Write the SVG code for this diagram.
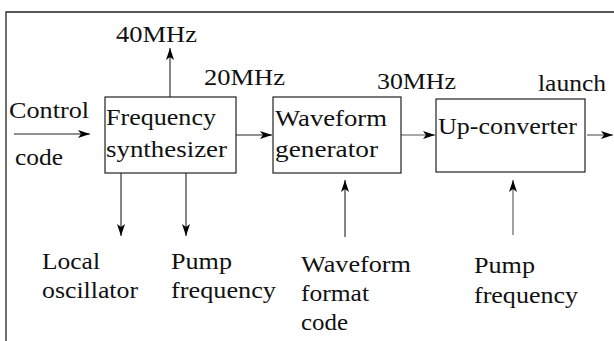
<svg xmlns="http://www.w3.org/2000/svg" width="614" height="341" viewBox="0 0 614 341">
<style>
text{font-family:Liberation Serif, Tinos, Times New Roman, serif;font-size:23.5px;fill:#111}
.box{fill:#fff;stroke:#222;stroke-width:1.2}
.ln{stroke:#222;stroke-width:1.1;fill:none}
.g{stroke:#555}
.fr{stroke:#222;stroke-width:1.3;fill:none}
</style>
<defs>
<marker id="ah" markerUnits="userSpaceOnUse" markerWidth="14" markerHeight="10" refX="12" refY="4" orient="auto">
<path d="M0,0 L12,4 L0,8 L3,4 z" fill="#000"/>
</marker>
</defs>
<rect width="614" height="341" fill="#fff"/>
<g id="frame">
<path class="fr" d="M6,341 V12 H614"/>
</g>
<g id="connectors">
<line class="ln" x1="14" y1="134" x2="90" y2="134" marker-end="url(#ah)"/>
<line class="ln" x1="170" y1="97" x2="170" y2="48" marker-end="url(#ah)"/>
<line class="ln" x1="236" y1="135" x2="272" y2="135" marker-end="url(#ah)"/>
<line class="ln g" x1="401" y1="135" x2="435" y2="135" marker-end="url(#ah)"/>
<line class="ln g" x1="587" y1="135" x2="613" y2="135" marker-end="url(#ah)"/>
<line class="ln" x1="121" y1="173" x2="121" y2="236" marker-end="url(#ah)"/>
<line class="ln" x1="186" y1="173" x2="186" y2="236" marker-end="url(#ah)"/>
<line class="ln" x1="345" y1="237" x2="345" y2="180" marker-end="url(#ah)"/>
<line class="ln g" x1="513" y1="235" x2="513" y2="180" marker-end="url(#ah)"/>
</g>
<g id="synth">
<rect class="box" x="105" y="97" width="131" height="76"/>
<text x="106" y="125" textLength="110" lengthAdjust="spacingAndGlyphs">Frequency</text>
<text x="106" y="157" textLength="121" lengthAdjust="spacingAndGlyphs">synthesizer</text>
</g>
<g id="wavegen">
<rect class="box" x="273" y="97" width="128" height="76"/>
<text x="275" y="126" textLength="112" lengthAdjust="spacingAndGlyphs">Waveform</text>
<text x="275" y="157" textLength="103" lengthAdjust="spacingAndGlyphs">generator</text>
</g>
<g id="upconv">
<rect class="box" x="436" y="99" width="149" height="73"/>
<text x="438" y="134" textLength="139" lengthAdjust="spacingAndGlyphs">Up-converter</text>
</g>
<g id="labels">
<text x="116" y="42" textLength="81" lengthAdjust="spacingAndGlyphs">40MHz</text>
<text x="204" y="85" textLength="81" lengthAdjust="spacingAndGlyphs">20MHz</text>
<text x="377" y="89" textLength="79" lengthAdjust="spacingAndGlyphs">30MHz</text>
<text x="538" y="91" textLength="68" lengthAdjust="spacingAndGlyphs">launch</text>
<text x="9" y="118" textLength="80" lengthAdjust="spacingAndGlyphs">Control</text>
<text x="15" y="165" textLength="48" lengthAdjust="spacingAndGlyphs">code</text>
<text x="42" y="269" textLength="58" lengthAdjust="spacingAndGlyphs">Local</text>
<text x="42" y="298" textLength="96" lengthAdjust="spacingAndGlyphs">oscillator</text>
<text x="171" y="269" textLength="61" lengthAdjust="spacingAndGlyphs">Pump</text>
<text x="171" y="298" textLength="105" lengthAdjust="spacingAndGlyphs">frequency</text>
<text x="301" y="272" textLength="110" lengthAdjust="spacingAndGlyphs">Waveform</text>
<text x="301" y="301" textLength="68" lengthAdjust="spacingAndGlyphs">format</text>
<text x="301" y="330" textLength="47" lengthAdjust="spacingAndGlyphs">code</text>
<text x="474" y="273" textLength="61" lengthAdjust="spacingAndGlyphs">Pump</text>
<text x="474" y="303" textLength="104" lengthAdjust="spacingAndGlyphs">frequency</text>
</g>
</svg>
